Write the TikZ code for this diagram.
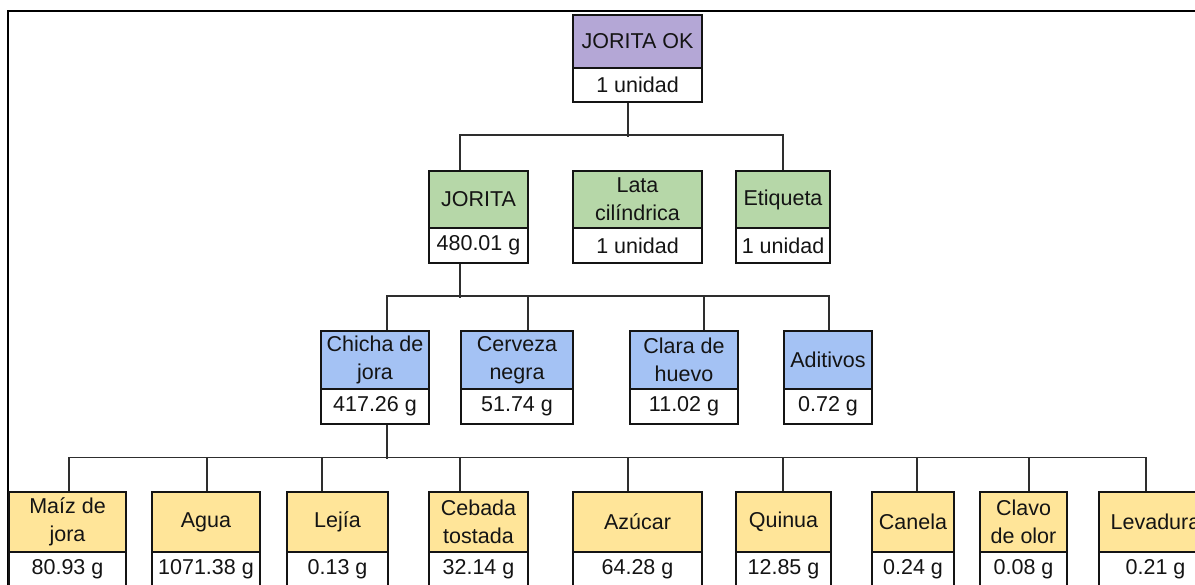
\documentclass[tikz,border=0pt]{standalone}
\usepackage{fontspec}
\setmainfont{Liberation Sans}
\begin{document}
\definecolor{topfill}{HTML}{B4A7D6}
\definecolor{prodfill}{HTML}{B6D7A8}
\definecolor{subfill}{HTML}{A4C2F4}
\definecolor{rawfill}{HTML}{FFE599}
\definecolor{ink}{HTML}{141414}
\definecolor{wire}{HTML}{2E2E2E}
\tikzset{
  cell/.style={draw=ink, line width=1.5pt, inner sep=0pt, align=center,
    text=ink, font=\fontsize{21.5}{28}\selectfont},
  link/.style={draw=wire, line width=1.5pt},
  frame/.style={draw=black, line width=2.6pt},
}
% one bill-of-materials item: name, left, right, top, divider, bottom, fill, label, amount
\newcommand\bomitem[9]{%
  \node[cell, fill=#7, minimum width={#3-#2}, minimum height={#5-#4}]
    (#1-h) at ({(#2+#3)/2},{(#4+#5)/2}) {#8};
  \node[cell, fill=white, minimum width={#3-#2}, minimum height={#6-#5}]
    (#1-v) at ({(#2+#3)/2},{(#5+#6)/2}) {#9};
}
\begin{tikzpicture}[x=1pt, y=-1pt]
\clip (0,0) rectangle (1195,585);
\fill[white] (0,0) rectangle (1195,585);
\draw[frame] (8,11) rectangle (1260,660);

% level 1
\bomitem{ok}{573}{702}{15}{68}{102}{topfill}{JORITA OK}{1 unidad}
% level 2
\bomitem{jorita}{429}{528}{171}{228}{263}{prodfill}{JORITA}{480.01 g}
\bomitem{lata}{573}{702}{171}{228}{263}{prodfill}{Lata\\cilíndrica}{1 unidad}
\bomitem{etiq}{736}{830}{171}{228}{263}{prodfill}{Etiqueta}{1 unidad}
% level 3
\bomitem{chicha}{321}{429}{331}{389}{424}{subfill}{Chicha de\\jora}{417.26 g}
\bomitem{cerveza}{461}{573}{331}{389}{424}{subfill}{Cerveza\\negra}{51.74 g}
\bomitem{clara}{630}{738}{331}{389}{424}{subfill}{Clara de\\huevo}{11.02 g}
\bomitem{aditivos}{784}{872}{331}{389}{424}{subfill}{Aditivos}{0.72 g}
% level 4
\bomitem{maiz}{9}{126}{492}{552}{587}{rawfill}{Maíz de\\jora}{80.93 g}
\bomitem{agua}{152}{260}{492}{552}{587}{rawfill}{Agua}{1071.38 g}
\bomitem{lejia}{287}{388}{492}{552}{587}{rawfill}{Lejía}{0.13 g}
\bomitem{cebada}{429}{528}{492}{552}{587}{rawfill}{Cebada\\tostada}{32.14 g}
\bomitem{azucar}{573}{702}{492}{552}{587}{rawfill}{Azúcar}{64.28 g}
\bomitem{quinua}{736}{831}{492}{552}{587}{rawfill}{Quinua}{12.85 g}
\bomitem{canela}{872}{954}{492}{552}{587}{rawfill}{Canela}{0.24 g}
\bomitem{clavo}{980}{1067}{492}{552}{587}{rawfill}{Clavo\\de olor}{0.08 g}
\bomitem{leva}{1099}{1212}{492}{552}{587}{rawfill}{Levadura}{0.21 g}

% connectors, level 1 -> 2
\draw[link] ([xshift=-9.5]ok-v.south) -- ++(0,34);
\draw[link] ([xshift=-18.5]jorita-h.north) -- ++(0,-35) -| (etiq-h.north);
% level 2 -> 3
\draw[link] ([xshift=-18.5]jorita-v.south) -- ++(0,34);
\draw[link] ([xshift=12]chicha-h.north) -- ++(0,-34) -| ([xshift=1]aditivos-h.north);
\draw[link] ([xshift=11]cerveza-h.north) -- ++(0,-34);
\draw[link] ([xshift=20]clara-h.north) -- ++(0,-34);
% level 3 -> 4
\draw[link] ([xshift=12]chicha-v.south) -- ++(0,34);
\draw[link] ([xshift=1.5]maiz-h.north) -- ++(0,-34) -| ([xshift=-9.5]leva-h.north);
\draw[link] ([xshift=1]agua-h.north) -- ++(0,-34);
\draw[link] ([xshift=-15.5]lejia-h.north) -- ++(0,-34);
\draw[link] ([xshift=-18.5]cebada-h.north) -- ++(0,-34);
\draw[link] ([xshift=-9.5]azucar-h.north) -- ++(0,-34);
\draw[link] ([xshift=-0.5]quinua-h.north) -- ++(0,-34);
\draw[link] ([xshift=4]canela-h.north) -- ++(0,-34);
\draw[link] ([xshift=5.5]clavo-h.north) -- ++(0,-34);
\end{tikzpicture}
\end{document}
